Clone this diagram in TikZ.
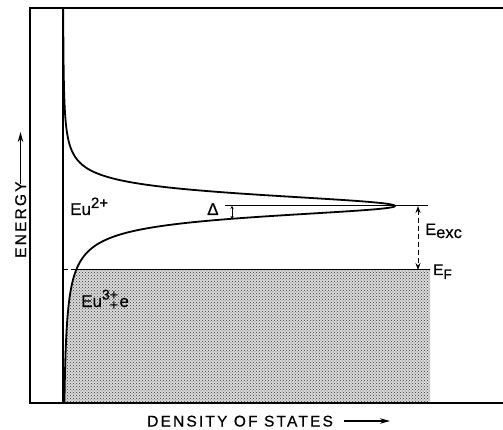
\documentclass[tikz,border=0pt]{standalone}
\usepackage{fontspec}
\setmainfont[FakeBold=0.6]{Liberation Sans}
\newfontfamily\axfont[LetterSpace=14,FakeBold=0.6]{Liberation Sans}
\usetikzlibrary{arrows.meta,patterns}
\begin{document}
\begin{tikzpicture}[x=1pt,y=-1pt,
  declare function={
    dosu(\t)=63+332*pow(1+((\t-206)/17.3)^2,-1.5);
    dosl(\t)=63+332/(1+((\t-206)/13)^2);
  },
  frame/.style={line width=1.5pt},
  axisline/.style={line width=2.8pt},
  dosline/.style={line width=1.8pt, line join=round},
  thinline/.style={line width=1pt},
  lbl/.style={inner sep=0pt, anchor=base west, font=\fontsize{17}{19}\selectfont},
  axlbl/.style={inner sep=0pt, anchor=base west, font=\fontsize{15.5}{17}\selectfont\axfont},
  bigarrow/.style={line width=1.3pt, -{Stealth[length=10pt,width=5.5pt]}},
  dblarrow/.style={thinline, {Stealth[length=7pt,width=5pt]}-{Stealth[length=7pt,width=5pt]}},
  tinyarrow/.style={line width=0.8pt, {Stealth[length=2.8pt,width=3.2pt]}-{Stealth[length=2.8pt,width=3.2pt]}},
  shade/.style={fill=black!14, postaction={pattern=crosshatch dots, pattern color=black!80}}
]
\useasboundingbox (0,0) rectangle (503,430);

% shaded occupied states
\path[shade] plot[domain=270:403, samples=90, variable=\t] ({dosl(\t)},\t) -- (430,403) -- (430,270) -- cycle;

% frame and axis
\draw[frame] (503,8) -- (30,8) -- (30,403) -- (503,403);
\draw[axisline] (63,8) -- (63,403);

% density of states curve
\draw[dosline] plot[domain=8:206, samples=500, variable=\t] ({dosu(\t)},\t)
  -- plot[domain=206:403, samples=500, variable=\t] ({dosl(\t)},\t);

% Fermi level
\coordinate (fl) at (63,270);
\coordinate (fc) at ({dosl(270)},270);
\coordinate (fr) at (430,270);
\draw[thinline, dash pattern=on 5pt off 3pt] (fl) -- (fc);
\draw[thinline] (fc) -- (fr);

% Delta marker
\coordinate (dl) at (225,206);
\coordinate (dr) at (428,206);
\draw[thinline] (dl) -- (dr);
\coordinate (da) at (232,206);
\coordinate (db) at (232,218.8);
\draw[tinyarrow] (da) -- (db);

% E_exc arrow
\coordinate (ea) at (418,206);
\coordinate (eb) at (418,270);
\draw[dblarrow, dash pattern=on 5pt off 3pt] (ea) -- (eb);

% labels
\node[lbl] (delta) at (207,215) {Δ};
\node[lbl] (eu2) at (70,215) {Eu\raisebox{7pt}{\fontsize{15}{15}\selectfont 2+}};
\node[lbl] (eu3) at (81,307) {Eu\raisebox{7.5pt}{\fontsize{14}{14}\selectfont 3+}\llap{\raisebox{-2.5pt}{\fontsize{14}{14}\selectfont +}}\kern1.5pt e};
\node[lbl, font=\fontsize{16.5}{18}\selectfont] (eexc) at (425,235) {E\raisebox{-3pt}{exc}};
\node[lbl, font=\fontsize{15.5}{17}\selectfont] (ef) at (433,275) {E\raisebox{-4pt}{\fontsize{13.5}{14}\selectfont F}};

% axis labels
\node[axlbl] (xlab) at (147,426.5) {DENSITY OF STATES};
\coordinate (xa0) at (344,421);
\coordinate (xa1) at (390,421);
\draw[bigarrow] (xa0) -- (xa1);

\node[axlbl, rotate=90] (ylab) at (26,258) {ENERGY};
\coordinate (ya0) at (20.5,184);
\coordinate (ya1) at (20.5,132);
\draw[bigarrow] (ya0) -- (ya1);
\end{tikzpicture}
\end{document}
